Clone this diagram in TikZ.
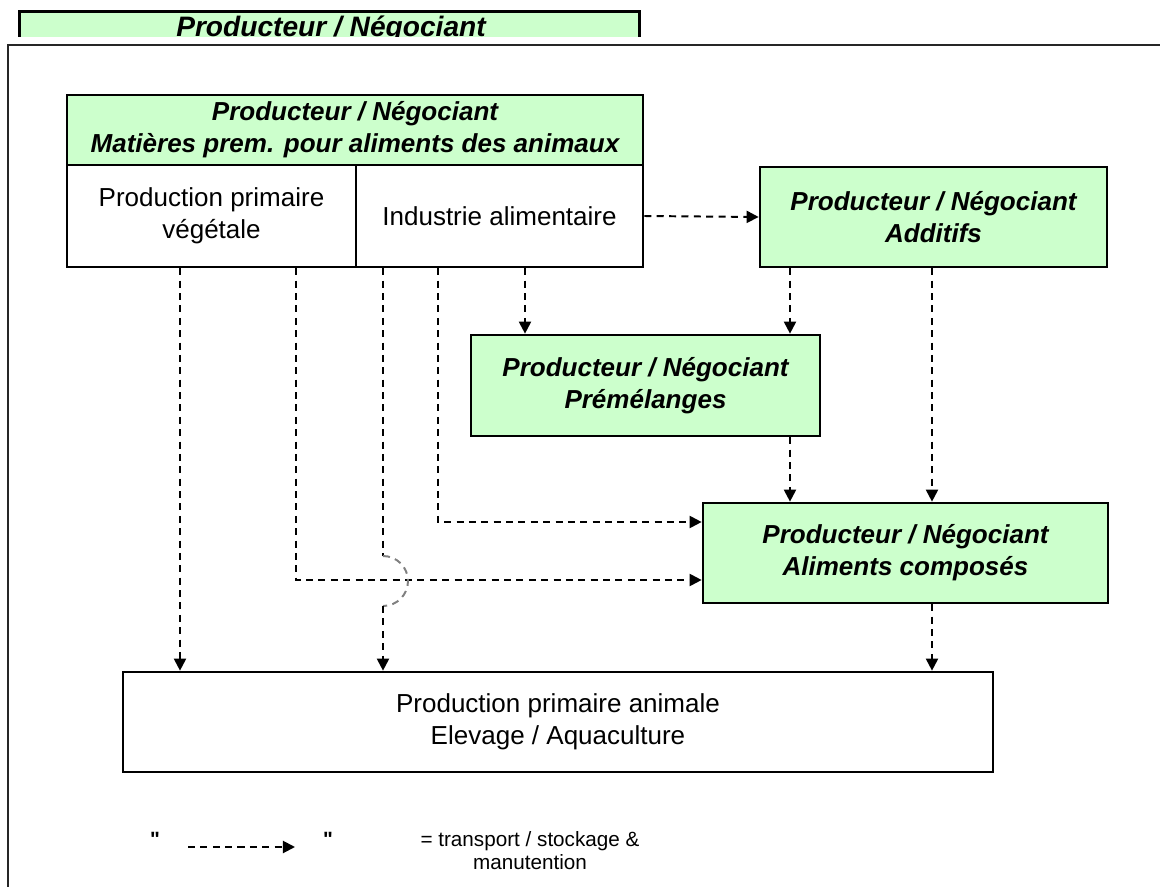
\documentclass[tikz,border=0pt]{standalone}
\usepackage{fontspec}
\setmainfont{Liberation Sans}
\usetikzlibrary{arrows.meta}
\definecolor{boxgreen}{HTML}{CCFFCC}
\def\pxu{0.025cm}
\tikzset{box/.style={draw, line width=1.9pt, inner sep=0pt, align=center, font=\fontsize{18.5}{22.8}\selectfont}}
\tikzset{gbox/.style={box, fill=boxgreen, font=\fontsize{18.5}{22.8}\selectfont\bfseries\itshape}}
\tikzset{flowline/.style={line width=1.4pt, dash pattern=on 5pt off 3.8pt}}
\tikzset{flow/.style={flowline, -{Triangle[length=0.3cm, width=0.3cm]}}}

\begin{document}
\begin{tikzpicture}[x=\pxu, y=-\pxu]
    \useasboundingbox (0,0) rectangle (1160,887);
    \begin{scope}
      \clip (0,0) rectangle (1160,37);
      \node [gbox, anchor=north west, minimum width=620*\pxu, minimum height=60*\pxu] (top) at (18,10) {};
      \node [anchor=base, font=\fontsize{20}{24}\selectfont\bfseries\itshape] (toptext) at (331,37) {Producteur / Négociant};
    \end{scope}
    \draw [line width=1pt, black!85] (8,900) -- (8,45) -- (1170,45);
    \node [gbox, minimum width=576*\pxu, minimum height=70*\pxu] (hdr) at (355,130) {Producteur / Négociant\\Matières prem. pour aliments des animaux};
    \node [box, minimum width=289*\pxu, minimum height=102*\pxu] (vege) at (211.5,216) {Production primaire\\végétale};
    \node [box, minimum width=287*\pxu, minimum height=102*\pxu] (indus) at (499.5,216) {Industrie alimentaire};
    \node [gbox, minimum width=347*\pxu, minimum height=100*\pxu] (additifs) at (933.5,217) {Producteur / Négociant\\Additifs};
    \node [gbox, minimum width=349*\pxu, minimum height=101*\pxu] (premel) at (645.5,385.5) {Producteur / Négociant\\Prémélanges};
    \node [gbox, minimum width=405*\pxu, minimum height=100*\pxu] (composes) at (905.5,553) {Producteur / Négociant\\Aliments composés};
    \node [box, minimum width=870*\pxu, minimum height=100*\pxu] (animal) at (558,722) {Production primaire animale\\Elevage / Aquaculture};
    \coordinate (x1) at (180,0);
    \coordinate (x2) at (296,0);
    \coordinate (x3) at (383,0);
    \coordinate (x4) at (438,0);
    \coordinate (x5) at (525,0);
    \coordinate (x6) at (790,0);
    \coordinate (x7) at (932,0);
    \coordinate (y2) at (0,580);
    \coordinate (y4) at (0,522);
    \coordinate (j1) at (383,556);
    \coordinate (j2) at (383,606);
    \draw [flow] (indus.east) -- (additifs.west);
    \draw [flow] (vege.south -| x1) -- (animal.north -| x1);
    \draw [flow] (vege.south -| x2) |- (composes.west |- y2);
    \draw [flowline] (indus.south -| x3) -- (j1);
    \draw [flowline, black!50] (j1) arc [start angle=90, end angle=-90, radius=0.625cm];
    \draw [flow] (j2) -- (animal.north -| x3);
    \draw [flow] (indus.south -| x4) |- (composes.west |- y4);
    \draw [flow] (indus.south -| x5) -- (premel.north -| x5);
    \draw [flow] (additifs.south -| x6) -- (premel.north -| x6);
    \draw [flow] (additifs.south -| x7) -- (composes.north -| x7);
    \draw [flow] (premel.south -| x6) -- (composes.north -| x6);
    \draw [flow] (composes.south -| x7) -- (animal.north -| x7);
    \node [anchor=base, font=\fontsize{14.7}{16.3}\selectfont\bfseries] (q1) at (155,846) {\textquotedbl};
    \node [anchor=base, font=\fontsize{14.7}{16.3}\selectfont\bfseries] (q2) at (328,846) {\textquotedbl};
    \coordinate (lg1) at (188,847);
    \coordinate (lg2) at (295,847);
    \draw [flow] (lg1) -- (lg2);
    \node [anchor=north, align=center, font=\fontsize{14.7}{16.3}\selectfont] (legend) at (530,827) {= transport / stockage \&\\manutention};
\end{tikzpicture}
\end{document}
